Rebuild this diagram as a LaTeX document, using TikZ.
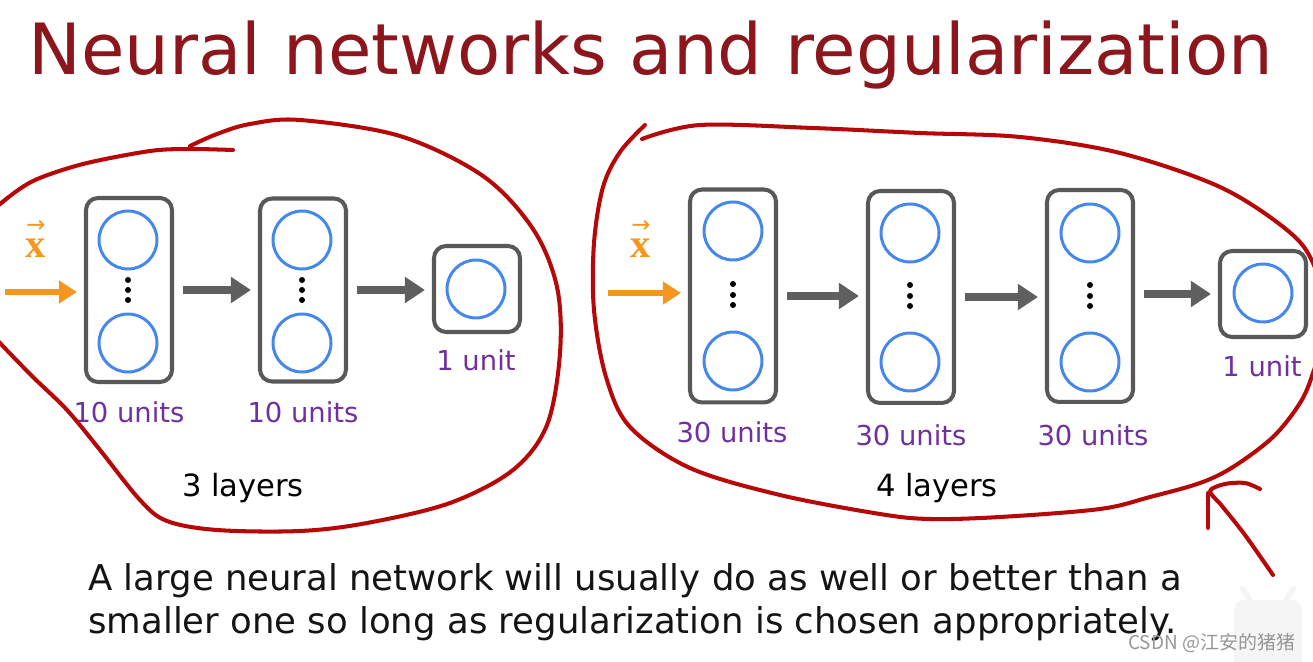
\documentclass[tikz,border=0pt]{standalone}
\usepackage{fontspec}
\setmainfont{DejaVu Sans}
\newfontfamily\xserif{Liberation Serif}
\newfontfamily\cjk{Noto Sans CJK SC}
\usetikzlibrary{arrows.meta}
\definecolor{penred}{RGB}{182,8,8}
\definecolor{titlered}{RGB}{140,22,28}
\definecolor{boxgray}{RGB}{88,88,88}
\definecolor{arrgray}{RGB}{95,95,95}
\definecolor{unitblue}{RGB}{70,135,235}
\definecolor{xorange}{RGB}{245,150,30}
\definecolor{labpurple}{RGB}{112,48,160}
\definecolor{wmgray}{RGB}{150,150,150}
\tikzset{
  layerbox/.style={draw=boxgray,line width=2.3pt,rounded corners=0.24cm,minimum width=1.72cm,inner sep=0pt},
  unit/.style={circle,draw=unitblue,line width=1.7pt,minimum size=1.16cm,inner sep=0pt},
  dotmark/.style={fill=black},
  flow/.style={draw=arrgray,line width=4pt,-{Triangle[length=0.4cm,width=0.5cm]},shorten <=5pt,shorten >=4pt},
  xflow/.style={draw=xorange,line width=3pt,-{Triangle[length=0.36cm,width=0.44cm]},shorten >=4pt},
  pen/.style={draw=penred,line width=2.3pt,line cap=round,line join=round},
  unitlab/.style={text=labpurple,font=\fontsize{15.6pt}{18pt}\selectfont,anchor=base,inner sep=0pt},
  layerlab/.style={text=black,font=\fontsize{17.4pt}{20pt}\selectfont,anchor=base,inner sep=0pt},
  xlab/.style={text=xorange,font=\fontsize{23pt}{27pt}\selectfont,inner sep=0pt},
  bodytext/.style={text=black!92,font=\fontsize{20.2pt}{24pt}\selectfont,anchor=base west,inner sep=0pt},
}
\newcommand{\vecx}{\shortstack[c]{{\fontsize{13pt}{13pt}\selectfont →}\\[1pt]{\xserif\bfseries x}}}
\begin{document}
\begin{tikzpicture}[x=0.02cm,y=-0.02cm]
\useasboundingbox (0,0) rectangle (1313,662);
\clip (0,0) rectangle (1313,662);
% title
\node[text=titlered,font=\fontsize{40.2pt}{46pt}\selectfont,anchor=base west,inner sep=0pt] (title) at (28,75) {Neural networks and regularization};

% ---------- left network ----------
\node[layerbox,minimum height=3.68cm] (L1) at (129,290) {};
\node[layerbox,minimum height=3.66cm] (L2) at (303,290) {};
\node[layerbox,minimum height=1.72cm] (L3) at (477,289) {};
\node[unit] (L1a) at (128,240) {};
\node[unit] (L1b) at (128,343) {};
\node[unit] (L2a) at (302,240) {};
\node[unit] (L2b) at (302,343) {};
\node[unit] (L3a) at (476,289) {};
\foreach \cx/\cy in {128/280,128/290,128/300,302/280,302/290,302/300}
  \fill[dotmark] (\cx,\cy) circle[radius=0.06cm];
\coordinate (xinL) at (5,292);
\draw[xflow] (xinL) -- (xinL -| L1.west);
\draw[flow] (L1) -- (L1 -| L2.west);
\draw[flow] (L2) -- (L2 -| L3.west);
\node[xlab] (xL) at (36,239) {\vecx};
\node[unitlab] (labL1) at (129,422) {10 units};
\node[unitlab] (labL2) at (303,422) {10 units};
\node[unitlab] (labL3) at (476,371) {1 unit};
\node[layerlab] (layL) at (243,497) {3 layers};

% ---------- right network ----------
\node[layerbox,minimum height=4.26cm] (R1) at (733,296) {};
\node[layerbox,minimum height=4.24cm] (R2) at (911,297) {};
\node[layerbox,minimum height=4.24cm] (R3) at (1090,296) {};
\node[layerbox,minimum height=1.72cm] (R4) at (1263,294) {};
\node[unit] (R1a) at (733,231) {};
\node[unit] (R1b) at (733,361) {};
\node[unit] (R2a) at (910,233) {};
\node[unit] (R2b) at (910,362) {};
\node[unit] (R3a) at (1090,233) {};
\node[unit] (R3b) at (1090,362) {};
\node[unit] (R4a) at (1263,293) {};
\foreach \cx/\cy in {733/284,733/295,733/305,910/285,910/296,910/306,1090/285,1090/296,1090/306}
  \fill[dotmark] (\cx,\cy) circle[radius=0.06cm];
\coordinate (xinR) at (608,293);
\draw[xflow] (xinR) -- (xinR -| R1.west);
\draw[flow] (R1) -- (R1 -| R2.west);
\draw[flow] (R2) -- (R2 -| R3.west);
\draw[flow] (R4 -| R3.east) -- (R4);
\node[xlab] (xR) at (641,239) {\vecx};
\node[unitlab] (labR1) at (732,442) {30 units};
\node[unitlab] (labR2) at (911,446) {30 units};
\node[unitlab] (labR3) at (1093,445) {30 units};
\node[unitlab] (labR4) at (1262,377) {1 unit};
\node[layerlab] (layR) at (937,497) {4 layers};

% ---------- bottom text ----------
\node[bodytext] (line1) at (88,590) {A large neural network will usually do as well or better than a};
\node[bodytext] (line2) at (88,633) {smaller one so long as regularization is chosen appropriately.};

% ---------- hand-drawn red annotations ----------
\draw[pen] plot[smooth,tension=0.55] coordinates {(190,146) (217,134) (250,124) (300,120) (400,136) (483,176) (533,229) (557,287) (560,353) (547,425) (513,470) (450,503) (367,523) (300,531) (217,530) (167,521) (140,500) (100,450) (67,410) (33,377) (0,343) (-25,315)};
\draw[pen] plot[smooth,tension=0.5] coordinates {(-25,228) (0,204) (33,181) (83,164) (150,151) (190,149) (233,150)};
\draw[pen] plot[smooth,tension=0.55] coordinates {(642,139) (700,125) (813,128) (920,133) (1020,137) (1120,153) (1220,187) (1287,230) (1313,263) (1328,320) (1313,373) (1300,403) (1273,437) (1233,467) (1200,483) (1150,497) (1100,509) (1000,517) (930,519) (880,514) (780,495) (690,468) (630,427) (606,377) (594,310) (594,243) (603,187) (620,152) (645,125)};
\draw[pen] plot[smooth,tension=0.5] coordinates {(1273,575) (1245,535) (1222,506) (1210,491) (1225,484) (1245,483) (1260,489)};
\draw[pen] (1208,528) -- (1208,493);

% ---------- watermark ----------
\fill[black!4,rounded corners=0.2cm] (1234,600) rectangle (1302,670);
\draw[black!4,line width=3pt,line cap=round] (1250,600) -- (1242,588);
\draw[black!4,line width=3pt,line cap=round] (1286,600) -- (1294,588);
\node[text=wmgray,font=\cjk\fontsize{10.8pt}{13pt}\selectfont,anchor=base west,inner sep=0pt] (wm) at (1128,649) {CSDN @江安的猪猪};
\end{tikzpicture}
\end{document}
